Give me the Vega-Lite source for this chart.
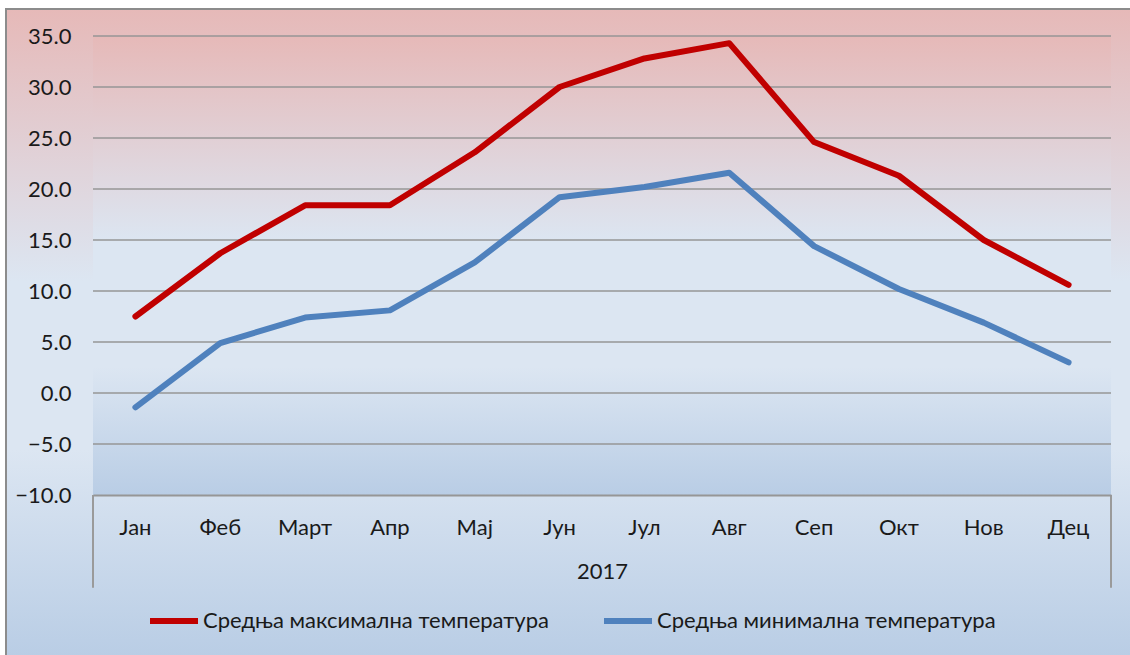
{
  "$schema": "https://vega.github.io/schema/vega-lite/v6.json",
  "width": 1126,
  "height": 648,
  "autosize": {"type": "none"},
  "padding": {"left": 6, "top": 9, "right": 0, "bottom": 0},
  "background": "white",
  "view": {
    "fill": {"gradient": "linear", "x1": 0, "y1": 0, "x2": 0, "y2": 1,
      "stops": [
        {"offset": 0, "color": "#E6B9B8"},
        {"offset": 0.42, "color": "#DCE6F2"},
        {"offset": 0.68, "color": "#DCE6F2"},
        {"offset": 1, "color": "#B9CDE5"}
      ]},
    "stroke": "#8C8C8C",
    "strokeWidth": 2
  },
  "config": {
    "font": "Lato",
    "axisX": {"labelFont": "Lato", "titleFont": "Lato", "labelColor": "#1A1A1A", "titleColor": "#1A1A1A",
      "orient": "bottom", "offset": -162, "titleFontSize": 22, "titleFontWeight": "normal", "titlePadding": 23,
      "labelFontSize": 22, "labelAngle": 0, "labelPadding": 22, "ticks": false, "tickSize": 0,
      "domain": true, "domainColor": "#969696", "domainWidth": 2, "grid": false},
    "axisY": {"labelFont": "Lato", "labelColor": "#1A1A1A",
      "orient": "left", "offset": -87, "labelFontSize": 22, "labelPadding": 22, "ticks": false, "tickSize": 0, "domain": false,
      "grid": false},
    "legend": {"labelFont": "Lato", "labelColor": "#1A1A1A", "labelLimit": 0}
  },
  "datasets": {
    "grid": [{"g": -5}, {"g": 0}, {"g": 5}, {"g": 10}, {"g": 15}, {"g": 20}, {"g": 25}, {"g": 30}, {"g": 35}]
  },
  "data": {
    "values": [
      {"month": "Јан", "series": "Средња максимална температура", "temp": 7.5},
      {"month": "Феб", "series": "Средња максимална температура", "temp": 13.7},
      {"month": "Март", "series": "Средња максимална температура", "temp": 18.4},
      {"month": "Апр", "series": "Средња максимална температура", "temp": 18.4},
      {"month": "Мај", "series": "Средња максимална температура", "temp": 23.6},
      {"month": "Јун", "series": "Средња максимална температура", "temp": 30.0},
      {"month": "Јул", "series": "Средња максимална температура", "temp": 32.8},
      {"month": "Авг", "series": "Средња максимална температура", "temp": 34.3},
      {"month": "Сеп", "series": "Средња максимална температура", "temp": 24.6},
      {"month": "Окт", "series": "Средња максимална температура", "temp": 21.3},
      {"month": "Нов", "series": "Средња максимална температура", "temp": 15.0},
      {"month": "Дец", "series": "Средња максимална температура", "temp": 10.6},
      {"month": "Јан", "series": "Средња минимална температура", "temp": -1.4},
      {"month": "Феб", "series": "Средња минимална температура", "temp": 4.9},
      {"month": "Март", "series": "Средња минимална температура", "temp": 7.4},
      {"month": "Апр", "series": "Средња минимална температура", "temp": 8.1},
      {"month": "Мај", "series": "Средња минимална температура", "temp": 12.8},
      {"month": "Јун", "series": "Средња минимална температура", "temp": 19.2},
      {"month": "Јул", "series": "Средња минимална температура", "temp": 20.2},
      {"month": "Авг", "series": "Средња минимална температура", "temp": 21.6},
      {"month": "Сеп", "series": "Средња минимална температура", "temp": 14.4},
      {"month": "Окт", "series": "Средња минимална температура", "temp": 10.2},
      {"month": "Нов", "series": "Средња минимална температура", "temp": 6.9},
      {"month": "Дец", "series": "Средња минимална температура", "temp": 3.0}
    ]
  },
  "layer": [
    {
      "data": {"values": [{}]},
      "mark": {"type": "rect",
        "fill": {"gradient": "linear", "x1": 0, "y1": 0, "x2": 0, "y2": 1,
          "stops": [
            {"offset": 0, "color": "#E6B9B8"},
            {"offset": 0.45, "color": "#DCE6F2"},
            {"offset": 0.72, "color": "#DCE6F2"},
            {"offset": 1, "color": "#B9CDE5"}
          ]}},
      "encoding": {
        "x": {"datum": "Јан", "type": "nominal", "bandPosition": 0, "axis": {"title": "2017"}},
        "x2": {"datum": "Дец", "bandPosition": 1},
        "y": {"datum": 35, "type": "quantitative", "axis": {"title": null, "values": [-10, -5, 0, 5, 10, 15, 20, 25, 30, 35], "format": ".1f"}},
        "y2": {"datum": -10}
      }
    },
    {
      "data": {"name": "grid"},
      "mark": {"type": "rule", "color": "#969696", "strokeWidth": 1.5},
      "encoding": {
        "x": {"datum": "Јан", "type": "nominal", "bandPosition": 0, "axis": {"title": "2017"}},
        "x2": {"datum": "Дец", "bandPosition": 1},
        "y": {"field": "g", "type": "quantitative", "axis": {"title": null, "values": [-10, -5, 0, 5, 10, 15, 20, 25, 30, 35], "format": ".1f"}}
      }
    },
    {
      "data": {"values": [{}]},
      "mark": {"type": "rule", "color": "#9A9A9A", "strokeWidth": 2},
      "encoding": {
        "x": {"datum": "Јан", "type": "nominal", "bandPosition": 0, "axis": {"title": "2017"}},
        "y": {"datum": -10, "type": "quantitative", "axis": {"title": null, "values": [-10, -5, 0, 5, 10, 15, 20, 25, 30, 35], "format": ".1f"}},
        "y2": {"datum": -19.1}
      }
    },
    {
      "data": {"values": [{}]},
      "mark": {"type": "rule", "color": "#9A9A9A", "strokeWidth": 2},
      "encoding": {
        "x": {"datum": "Дец", "type": "nominal", "bandPosition": 1, "axis": {"title": "2017"}},
        "y": {"datum": -10, "type": "quantitative", "axis": {"title": null, "values": [-10, -5, 0, 5, 10, 15, 20, 25, 30, 35], "format": ".1f"}},
        "y2": {"datum": -19.1}
      }
    },
    {
      "mark": {"type": "line", "strokeWidth": 6, "strokeCap": "round", "strokeJoin": "round"},
      "encoding": {
        "x": {
          "field": "month", "type": "nominal", "sort": null,
          "scale": {"domain": ["Јан", "Феб", "Март", "Апр", "Мај", "Јун", "Јул", "Авг", "Сеп", "Окт", "Нов", "Дец"], "range": [87, 1105], "paddingInner": 0, "paddingOuter": 0},
          "axis": {"title": "2017"}
        },
        "y": {
          "field": "temp", "type": "quantitative",
          "scale": {"domain": [-10, 35], "range": [486, 27], "nice": false, "zero": false},
          "axis": {"title": null, "values": [-10, -5, 0, 5, 10, 15, 20, 25, 30, 35], "format": ".1f"}
        },
        "color": {
          "field": "series", "type": "nominal",
          "scale": {"domain": ["Средња максимална температура", "Средња минимална температура"], "range": ["#C00000", "#4F81BD"]},
          "legend": {"title": null, "orient": "none", "direction": "horizontal", "legendX": 141, "legendY": 585,
            "symbolType": "stroke", "symbolSize": 2304, "symbolStrokeWidth": 6, "labelFontSize": 22, "labelOffset": 2, "columnPadding": 43}
        }
      }
    }
  ]
}
